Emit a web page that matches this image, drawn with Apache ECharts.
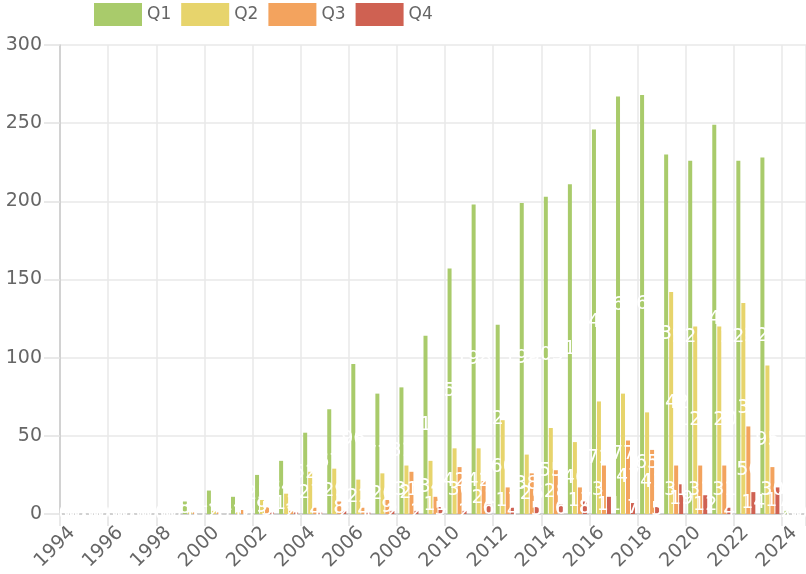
<!DOCTYPE html>
<html>
<head>
<meta charset="utf-8">
<script src="https://cdn.jsdelivr.net/npm/echarts@6/dist/echarts.min.js"></script>
<style>
html,body{margin:0;padding:0;background:#fff;}
#chart{width:806px;height:574px;}
</style>
</head>
<body>
<div id="chart"></div>
<script>
const years = ['1994','1995','1996','1997','1998','1999','2000','2001','2002','2003','2004','2005','2006','2007','2008','2009','2010','2011','2012','2013','2014','2015','2016','2017','2018','2019','2020','2021','2022','2023','2024'];
const q1 = [0,0,0,0,0,8,15,11,25,34,52,67,96,77,81,114,157,198,121,199,203,211,246,267,268,230,226,249,226,228,2];
const q2 = [0,0,0,0,0,1,2,1,9,13,27,29,22,26,31,34,42,42,60,38,55,46,72,77,65,142,120,120,135,95,0];
const q3 = [0,0,0,0,0,1,1,3,5,2,4,8,4,9,27,11,30,21,17,26,28,17,31,47,41,31,31,31,56,30,0];
const q4 = [0,0,0,0,0,0,0,0,1,1,1,2,1,2,2,5,2,6,4,5,6,8,11,7,5,19,12,4,14,17,0];
const seriesNames = ['Q1','Q2','Q3','Q4'];
const seriesColors = ['#a9cb6b','#e7d46c','#f3a35e','#cf6152'];
const yTicks = {min:0, max:300, interval:50};

const font = 'DejaVu Sans';
const chart = echarts.init(document.getElementById('chart'), null, {renderer:'canvas'});
const dataSets = [q1,q2,q3,q4];
chart.setOption({
  animation:false,
  color: seriesColors,
  textStyle:{fontFamily:font},
  legend:{
    left:89, top:-2, itemWidth:48, itemHeight:23, itemGap:10, icon:'rect',
    textStyle:{fontFamily:font, fontSize:17, color:'#666'},
    data: seriesNames
  },
  grid:{left:60, right:0, top:45, bottom:60, containLabel:false},
  xAxis:{
    type:'category', data:years, boundaryGap:true,
    axisLine:{lineStyle:{color:'#c8c8c8', width:1.5}},
    axisTick:{show:true, interval:1, length:12, lineStyle:{color:'#e2e2e2', width:1.5}},
    splitLine:{show:true, interval:1, lineStyle:{color:'#e8e8e8', width:1.5}},
    axisLabel:{interval:1, rotate:45, margin:16, fontFamily:font, fontSize:19, color:'#666'}
  },
  yAxis:{
    type:'value', min:yTicks.min, max:yTicks.max, interval:yTicks.interval,
    axisLine:{show:true, lineStyle:{color:'#c8c8c8', width:1.5}},
    axisTick:{show:true, length:16, lineStyle:{color:'#e2e2e2', width:1.5}},
    splitLine:{show:true, lineStyle:{color:'#e8e8e8', width:1.5}},
    axisLabel:{margin:18, fontFamily:font, fontSize:19, color:'#666'}
  },
  series: seriesNames.map((n,i)=>({
    name:n, type:'bar', data:dataSets[i], barWidth:4, barGap:'25%',
    label:{show:true, position:'inside', color:'#fff', fontFamily:font, fontSize:19,
      textBorderWidth:0}
  }))
});
</script>
</body>
</html>
